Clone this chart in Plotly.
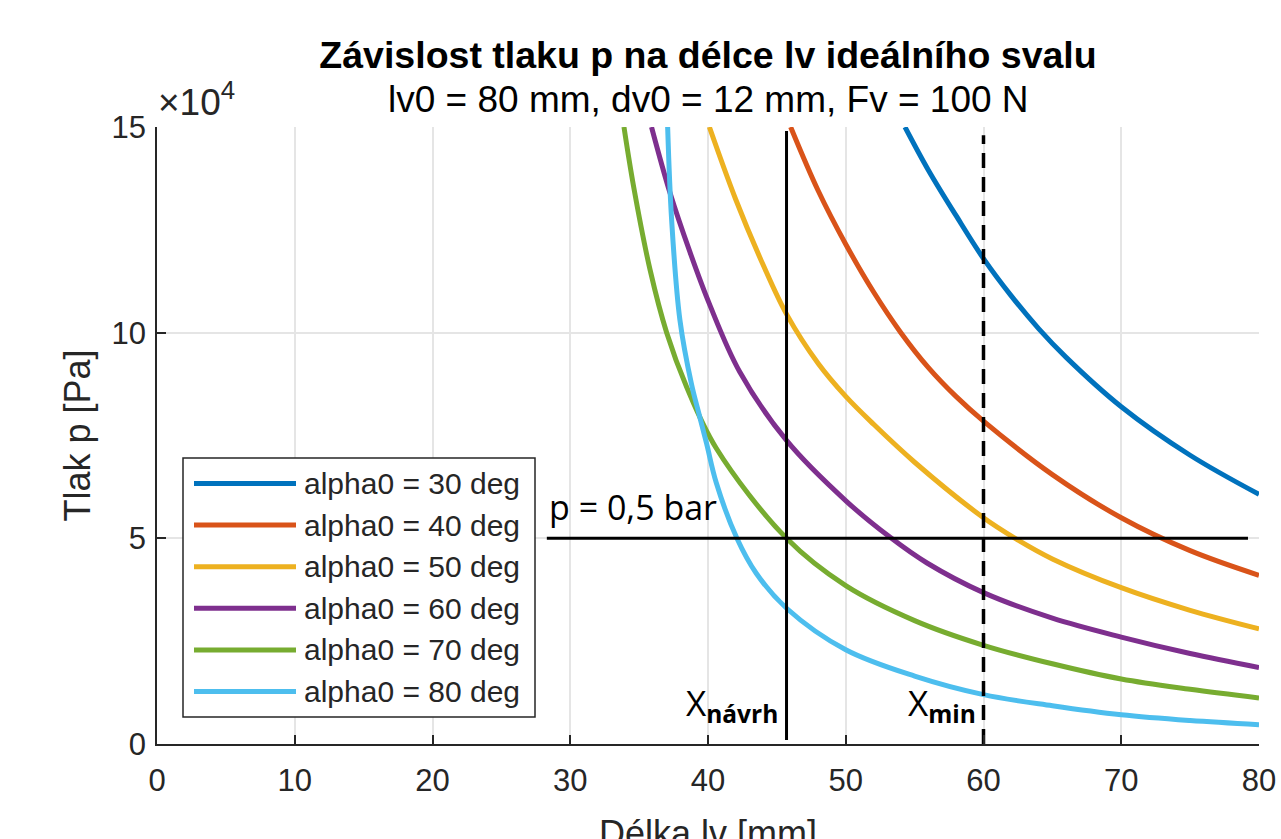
import plotly.graph_objects as go

# ---- data (p in units of 10^4 Pa, lv in mm) ----
series_names = ["alpha0 = 30 deg", "alpha0 = 40 deg", "alpha0 = 50 deg",
                "alpha0 = 60 deg", "alpha0 = 70 deg", "alpha0 = 80 deg"]
series_colors = ["#0072BD", "#D95319", "#EDB120", "#7E2F8E", "#77AC30", "#4DBEEE"]

lv_30 = [54.3, 56.0, 58.0, 60.0, 62.0, 64.0, 66.0, 70.0, 75.0, 80.0]
p_30 = [15.0, 13.95, 12.85, 11.8, 10.9, 10.1, 9.4, 8.2, 7.02, 6.07]

lv_40 = [46.0, 48.0, 50.0, 52.0, 54.0, 56.0, 58.0, 60.0, 65.0, 70.0, 75.0, 80.0]
p_40 = [15.0, 13.45, 12.15, 11.0, 10.0, 9.15, 8.45, 7.85, 6.55, 5.5, 4.7, 4.1]

lv_50 = [40.1, 42.0, 44.0, 45.7, 48.0, 50.0, 52.0, 55.0, 60.0, 62.3, 65.0, 70.0, 75.0, 80.0]
p_50 = [15.0, 13.25, 11.65, 10.45, 9.25, 8.45, 7.78, 6.85, 5.5, 5.0, 4.5, 3.8, 3.25, 2.8]

lv_60 = [35.9, 37.24, 38.7, 40.1, 42.3, 45.7, 50.05, 53.2, 55.9, 60.0, 65.0, 70.0, 75.0, 80.0]
p_60 = [15.0, 13.4, 11.95, 10.7, 9.05, 7.38, 5.9, 5.03, 4.40, 3.68, 3.06, 2.6, 2.2, 1.86]

lv_70 = [33.9, 34.6, 35.8, 37.0, 38.45, 40.6, 45.7, 50.0, 55.0, 60.0, 65.0, 70.0, 75.0, 80.0]
p_70 = [15.0, 13.55, 11.52, 10.0, 8.68, 7.19, 5.0, 3.85, 3.0, 2.4, 1.95, 1.58, 1.33, 1.12]

lv_80 = [37.07, 37.36, 37.96, 38.8, 39.35, 39.9, 40.6, 42.1, 43.5, 45.7, 50.0, 55.0, 60.0, 65.0, 70.0, 75.0, 80.0]
p_80 = [15.0, 12.74, 10.31, 8.75, 8.02, 7.3, 6.35, 5.0, 4.15, 3.30, 2.29, 1.65, 1.2, 0.93, 0.71, 0.57, 0.47]

lv_series = [lv_30, lv_40, lv_50, lv_60, lv_70, lv_80]
p_series = [p_30, p_40, p_50, p_60, p_70, p_80]

# reference lines
x_navrh = 45.7
x_navrh_p = [0.1, 14.9]
x_min = 60.0
x_min_p = [0.0, 14.8]
p_limit = 5.0
p_limit_lv = [28.3, 79.2]

x_ticks = [0, 10, 20, 30, 40, 50, 60, 70, 80]
y_ticks = [0, 5, 10, 15]
y_ticktext = ["0", "5", "10", "15"]

FONT = "Liberation Sans, Arial, sans-serif"
AX = "#262626"

fig = go.Figure()
for name, col, xs, ys in zip(series_names, series_colors, lv_series, p_series):
    fig.add_trace(go.Scatter(x=xs, y=ys, mode="lines", name=name,
                             line=dict(color=col, width=5, shape="spline", smoothing=1.0),
                             showlegend=False))

fig.add_trace(go.Scatter(x=[x_navrh, x_navrh], y=x_navrh_p, mode="lines",
                         line=dict(color="black", width=3), showlegend=False))
fig.add_trace(go.Scatter(x=[x_min, x_min], y=x_min_p, mode="lines",
                         line=dict(color="black", width=3.5, dash="15px,9px"), showlegend=False))
fig.add_trace(go.Scatter(x=p_limit_lv, y=[p_limit, p_limit], mode="lines",
                         line=dict(color="black", width=3), showlegend=False))

W, H = 1281, 839
L, R, T, B = 157, 22, 127, 95
pw, ph = W - L - R, H - T - B

def px(xp):
    return (xp - L) / pw

def py(yp):
    return (H - B - yp) / ph

shapes = []
annotations = []

# manual legend
shapes.append(dict(type="rect", xref="paper", yref="paper",
                   x0=px(183), x1=px(535), y0=py(717), y1=py(458),
                   line=dict(color=AX, width=1.5), fillcolor="white", layer="above"))
for i, (name, col) in enumerate(zip(series_names, series_colors)):
    yy = py(483.5 + 41.6 * i)
    shapes.append(dict(type="line", xref="paper", yref="paper",
                       x0=px(194), x1=px(296), y0=yy, y1=yy,
                       line=dict(color=col, width=5), layer="above"))
    annotations.append(dict(text=name, xref="paper", yref="paper", x=px(302), y=yy,
                            xanchor="left", yanchor="middle", showarrow=False,
                            font=dict(family=FONT, size=30, color=AX)))

# subtitle
annotations.append(dict(text="lv0 = 80 mm, dv0 = 12 mm, Fv = 100 N", xref="paper", yref="paper",
                        x=0.5, y=py(100), xanchor="center", yanchor="middle", showarrow=False,
                        font=dict(family=FONT, size=37, color="black")))
# exponent
annotations.append(dict(text="×10<sup>4</sup>", xref="paper", yref="paper",
                        x=px(156), y=py(125), xanchor="left", yanchor="bottom", showarrow=False,
                        font=dict(family=FONT, size=37, color=AX)))
# x-axis title (placed low, partly cut by the page edge as in the reference)
annotations.append(dict(text="Délka lv [mm]", xref="paper", yref="paper",
                        x=0.5, y=py(833), xanchor="center", yanchor="middle", showarrow=False,
                        font=dict(family=FONT, size=36, color=AX)))
# text annotations
CAL = "Open Sans, Lato, sans-serif"
annotations.append(dict(text="p = 0,5 bar", x=28.3, y=5.15, xref="x", yref="y",
                        xanchor="left", yanchor="bottom", showarrow=False,
                        font=dict(family=CAL, size=34, color="black")))
annotations.append(dict(text="X<sub><b>návrh</b></sub>", x=45.2, y=0.3, xref="x", yref="y",
                        xanchor="right", yanchor="bottom", showarrow=False,
                        font=dict(family=CAL, size=35, color="black")))
annotations.append(dict(text="X<sub><b>min</b></sub>", x=59.6, y=0.3, xref="x", yref="y",
                        xanchor="right", yanchor="bottom", showarrow=False,
                        font=dict(family=CAL, size=35, color="black")))

fig.update_layout(
    width=W, height=H,
    margin=dict(l=L, r=R, t=T, b=B, pad=0),
    paper_bgcolor="white", plot_bgcolor="white",
    title=dict(text="<b>Závislost tlaku p na délce lv ideálního svalu</b>",
               x=0.5, xref="paper", xanchor="center",
               y=1 - 55 / H, yref="container", yanchor="middle",
               font=dict(family=FONT, size=37.5, color="black")),
    shapes=shapes, annotations=annotations,
    xaxis=dict(range=[0, 80], tickvals=x_ticks, showgrid=True, gridcolor="#e5e5e5", gridwidth=1.5,
               showline=True, linecolor=AX, linewidth=1.5, ticks="inside", ticklen=9,
               tickcolor=AX, tickwidth=1.5, zeroline=False, mirror=False, automargin=False,
               ticklabelstandoff=8,
               tickfont=dict(family=FONT, size=31, color=AX)),
    yaxis=dict(range=[0, 15], tickvals=y_ticks, ticktext=y_ticktext, showgrid=True,
               gridcolor="#e5e5e5", gridwidth=1.5, automargin=False,
               showline=True, linecolor=AX, linewidth=1.5, ticks="inside", ticklen=9,
               tickcolor=AX, tickwidth=1.5, zeroline=False, ticklabelstandoff=3,
               tickfont=dict(family=FONT, size=31, color=AX),
               title=dict(text="Tlak p [Pa]", standoff=10,
                          font=dict(family=FONT, size=36, color=AX))),
)

fig.write_html("out.html")
